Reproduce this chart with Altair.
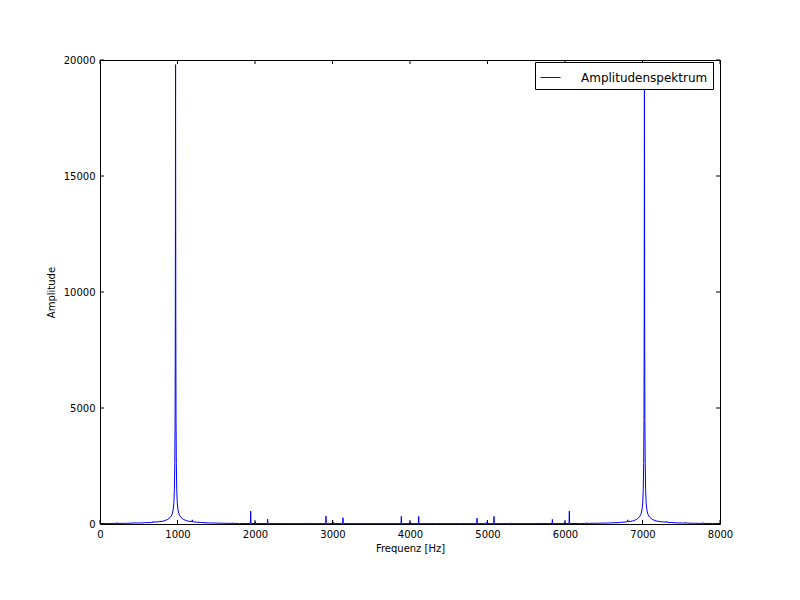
import altair as alt
import pandas as pd

# Spectrum samples (Hz, amplitude)
freq = [0, 100, 215, 219, 223, 325, 440, 444, 448, 525, 655, 684, 688, 692, 755,
        825, 875, 910, 930, 943, 953, 960, 965, 969, 972, 975, 978, 981, 985, 990,
        997, 1007, 1020, 1040, 1075, 1125, 1187, 1191, 1195, 1295, 1425, 1625,
        1716, 1720, 1724, 1800, 1940, 1944, 1948, 2000, 2004, 2008, 2159, 2163, 2167,
        2400, 2696, 2700, 2704, 2912, 2916, 2920, 3006, 3010, 3014, 3131, 3135, 3139,
        3351, 3355, 3359, 3661, 3665, 3669, 3884, 3888, 3892, 3996, 4000, 4004,
        4108, 4112, 4116, 4331, 4335, 4339, 4641, 4645, 4649, 4861, 4865, 4869,
        4986, 4990, 4994, 5080, 5084, 5088, 5296, 5300, 5304, 5600, 5833, 5837, 5841,
        5992, 5996, 6000, 6052, 6056, 6060, 6200, 6276, 6280, 6284, 6375, 6575, 6705,
        6805, 6809, 6813, 6875, 6925, 6960, 6980, 6993, 7003, 7010, 7015, 7019, 7022,
        7025, 7028, 7031, 7035, 7040, 7047, 7057, 7070, 7090, 7125, 7175, 7245,
        7308, 7312, 7316, 7345, 7475, 7552, 7556, 7560, 7675, 7777, 7781, 7785,
        7900, 8000]
amp = [20, 22, 24, 60, 25, 30, 38, 70, 40, 45, 65, 75, 115, 80, 95,
       130, 200, 300, 420, 600, 900, 1500, 2600, 4500, 9000, 19800, 9000, 4500, 2600, 1500,
       900, 600, 420, 300, 200, 130, 100, 180, 95, 65, 45, 30,
       25, 55, 25, 22, 22, 560, 22, 20, 90, 20, 20, 210, 20,
       18, 18, 50, 18, 18, 340, 18, 18, 90, 18, 18, 270, 18,
       18, 45, 18, 18, 45, 18, 18, 330, 18, 18, 90, 18,
       18, 330, 18, 18, 45, 18, 18, 45, 18, 18, 250, 18,
       18, 90, 18, 18, 330, 18, 18, 50, 18, 18, 20, 200, 20,
       20, 90, 20, 22, 560, 22, 22, 25, 55, 25, 30, 45, 65,
       95, 180, 100, 130, 200, 300, 420, 600, 900, 1500, 2600, 4500, 9000,
       19800, 9000, 4500, 2600, 1500, 900, 600, 420, 300, 200, 130, 95,
       80, 115, 75, 65, 45, 40, 70, 38, 30, 25, 60, 24,
       22, 20]

series_name = "Amplitudenspektrum"
x_ticks = [0, 1000, 2000, 3000, 4000, 5000, 6000, 7000, 8000]
y_ticks = [0, 5000, 10000, 15000, 20000]

W, H = 620, 464

df = pd.DataFrame({"freq": freq, "amp": amp, "series": [series_name] * len(freq)})
xt = pd.DataFrame({"v": x_ticks})
yt = pd.DataFrame({"v": y_ticks})

xscale = alt.Scale(domain=[0, 8000], nice=False, zero=False)
yscale = alt.Scale(domain=[0, 20000], nice=False)

common_axis = dict(grid=False, ticks=False, domain=False, labelFontSize=10,
                   titleFontSize=10, titleFontWeight="normal", labelColor="black",
                   titleColor="black", format="d", labelFlush=False, labelOverlap=False,
                   labelFont="DejaVu Sans", titleFont="DejaVu Sans")

x_axis = alt.Axis(values=x_ticks, title="Frequenz [Hz]", labelPadding=5,
                  titlePadding=4, **common_axis)
y_axis = alt.Axis(values=y_ticks, title="Amplitude", labelPadding=5,
                  titlePadding=7, **common_axis)

line = alt.Chart(df).mark_line(strokeWidth=1).encode(
    x=alt.X("freq:Q", scale=xscale, axis=x_axis),
    y=alt.Y("amp:Q", scale=yscale, axis=y_axis),
    color=alt.Color("series:N", scale=alt.Scale(range=["#0000ff"]),
                    legend=alt.Legend(title=None, orient="none", legendX=435, legendY=2,
                                      strokeColor="black", fillColor="white", padding=5,
                                      cornerRadius=0, symbolType="stroke", symbolSize=400,
                                      symbolStrokeWidth=1, labelFontSize=12, labelOffset=20,
                                      labelColor="black", labelFont="DejaVu Sans")),
)

xtick_bottom = alt.Chart(xt).mark_rule(color="black", strokeWidth=1).encode(
    x=alt.X("v:Q", scale=xscale, axis=x_axis), y=alt.value(H - 4), y2=alt.value(H))
xtick_top = alt.Chart(xt).mark_rule(color="black", strokeWidth=1).encode(
    x=alt.X("v:Q", scale=xscale, axis=x_axis), y=alt.value(0), y2=alt.value(4))
ytick_left = alt.Chart(yt).mark_rule(color="black", strokeWidth=1).encode(
    y=alt.Y("v:Q", scale=yscale, axis=y_axis), x=alt.value(0), x2=alt.value(4))
ytick_right = alt.Chart(yt).mark_rule(color="black", strokeWidth=1).encode(
    y=alt.Y("v:Q", scale=yscale, axis=y_axis), x=alt.value(W - 4), x2=alt.value(W))

chart = alt.layer(line, xtick_bottom, xtick_top, ytick_left, ytick_right).properties(
    width=W, height=H,
    autosize=alt.AutoSizeParams(type="none"),
    padding={"left": 100, "top": 60, "right": 80, "bottom": 76},
    background="white",
).configure(font="DejaVu Sans").configure_view(stroke="black", strokeWidth=1)

chart.save("out.html", embed_options={"renderer": "svg", "actions": False})
